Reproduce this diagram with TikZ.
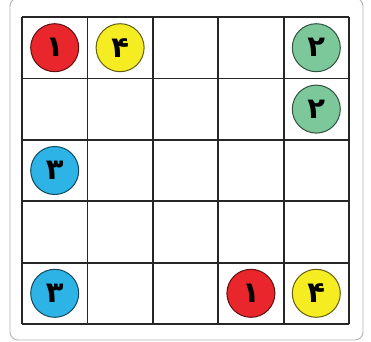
\documentclass[tikz,border=0pt]{standalone}
\usepackage{fontspec}
\newfontfamily\digitfont[Script=Arabic]{DejaVu Sans}
\usetikzlibrary{positioning}

\definecolor{tokred}{HTML}{E8262B}
\definecolor{tokyellow}{HTML}{F6EC22}
\definecolor{tokgreen}{HTML}{7DC89A}
\definecolor{tokblue}{HTML}{2DB3E6}

\begin{document}
\begin{tikzpicture}[
    x=1pt, y=-1pt,
    frame/.style={
        draw=gray!60,
        line width=0.9pt,
        rounded corners=8pt
    },
    gridline/.style={
        draw=black!85,
        line width=1.8pt
    },
    token/.style={
        circle,
        draw=#1!40!black,
        line width=1pt,
        fill=#1,
        minimum size=48pt,
        inner sep=0pt,
        font=\digitfont\bfseries\fontsize{29}{29}\selectfont
    }
]
\useasboundingbox (0,0) rectangle (371,341);

% outer card (top edge runs off the page)
\draw[frame] (10,-2) rectangle (363,340);

% 5x5 board
\foreach \i in {0,...,5} {
    \draw[gridline] ({22+65.4*\i},17) -- ({22+65.4*\i},324);
    \draw[gridline] (22,{17+61.4*\i}) -- (349,{17+61.4*\i});
}

% top row
\node[token=tokred]    (redA)    at (54.7,47.7)  {۱};
\node[token=tokyellow] (yellowA) at (120.1,47.7) {۴};
\node[token=tokgreen]  (greenA)  at (316.3,47.7) {۲};

% right column, second row
\node[token=tokgreen]  (greenB)  at (316.3,109.1) {۲};

% left column
\node[token=tokblue]   (blueA)   at (54.7,170.5) {۳};
\node[token=tokblue]   (blueB)   at (54.7,293.3) {۳};

% bottom row
\node[token=tokred]    (redB)    at (250.9,293.3) {۱};
\node[token=tokyellow] (yellowB) at (316.3,293.3) {۴};

\end{tikzpicture}
\end{document}
